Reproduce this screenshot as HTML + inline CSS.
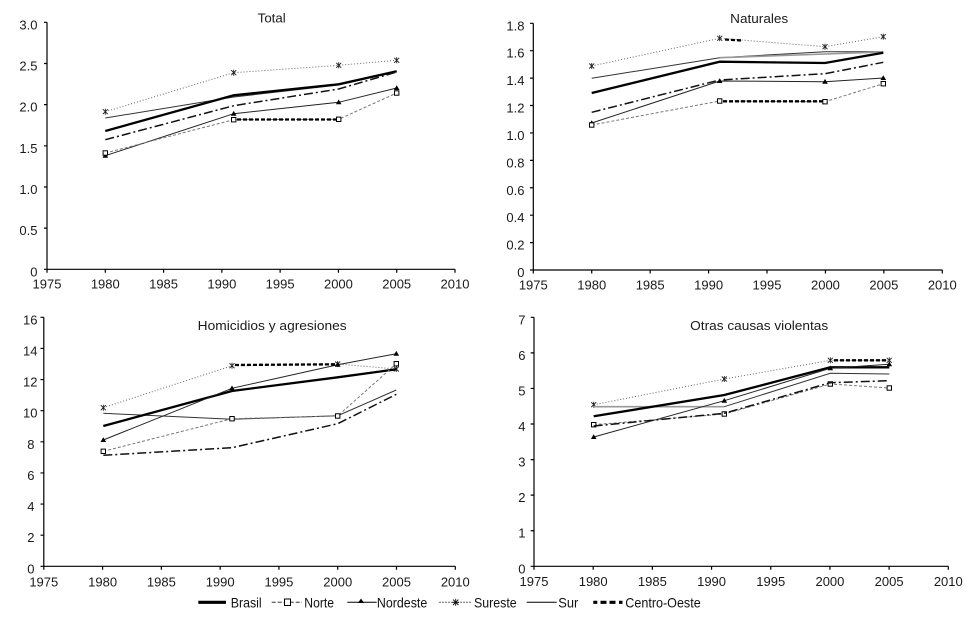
<!DOCTYPE html>
<html><head><meta charset="utf-8"><style>
html,body{margin:0;padding:0;background:#fff;}
svg{display:block;font-family:"Liberation Sans",Arial,sans-serif;}
.tk{font-size:13px;fill:#1a1a1a;}
.ax{stroke:#000;stroke-width:1.2;fill:none;}
.br{stroke:#000;stroke-width:2.3;fill:none;}
.no{stroke:#777;stroke-width:1;stroke-dasharray:3,2;fill:none;marker-start:url(#sq);marker-mid:url(#sq);marker-end:url(#sq);}
.nd{stroke:#222;stroke-width:1;fill:none;marker-start:url(#tri);marker-mid:url(#tri);marker-end:url(#tri);}
.se{stroke:#666;stroke-width:1;stroke-dasharray:1,2;fill:none;marker-start:url(#st);marker-mid:url(#st);marker-end:url(#st);}
.su{stroke:#333;stroke-width:1;fill:none;}
.dd{stroke:#111;stroke-width:1.5;stroke-dasharray:9,3,2,3;fill:none;}
.hv{stroke:#000;stroke-width:2.3;stroke-dasharray:4,2;fill:none;}
</style></head><body>
<svg width="967" height="626" viewBox="0 0 967 626" xmlns="http://www.w3.org/2000/svg">
<defs>
<marker id="sq" markerWidth="8" markerHeight="8" refX="4" refY="4" markerUnits="userSpaceOnUse"><rect x="1.8" y="1.8" width="4.4" height="4.4" fill="#fff" stroke="#000" stroke-width="1" stroke-dasharray="none"/></marker>
<marker id="tri" markerWidth="8" markerHeight="8" refX="4" refY="4" markerUnits="userSpaceOnUse"><polygon points="4,1.2 6.8,6 1.2,6" fill="#000" stroke="none"/></marker>
<marker id="st" markerWidth="8" markerHeight="8" refX="4" refY="4" markerUnits="userSpaceOnUse"><path d="M1.5,1.5L6.5,6.5M6.5,1.5L1.5,6.5M4,1L4,7" stroke="#222" stroke-width="0.9" stroke-dasharray="none" fill="none"/></marker>
</defs>
<rect width="967" height="626" fill="#fff"/>

<!-- PANEL 1 Total -->
<g>
<text x="271.7" y="22.7" class="tk" text-anchor="middle" textLength="28" lengthAdjust="spacingAndGlyphs">Total</text>
<path class="ax" d="M47,22.3V269.3H455"/>
<path class="ax" d="M44,269.3H47M44,228.13H47M44,186.97H47M44,145.8H47M44,104.63H47M44,63.47H47M44,22.3H47"/>
<path class="ax" d="M47,269.3v3.5M105.29,269.3v3.5M163.57,269.3v3.5M221.86,269.3v3.5M280.14,269.3v3.5M338.43,269.3v3.5M396.71,269.3v3.5M455,269.3v3.5"/>
<g class="tk" text-anchor="end">
<text x="37.5" y="276.3">0</text><text x="37.5" y="235.1">0.5</text><text x="37.5" y="194">1.0</text><text x="37.5" y="152.8">1.5</text><text x="37.5" y="111.6">2.0</text><text x="37.5" y="70.5">2.5</text><text x="37.5" y="29.3">3.0</text>
</g>
<g class="tk" text-anchor="middle">
<text x="47" y="288.6">1975</text><text x="105.29" y="288.6">1980</text><text x="163.57" y="288.6">1985</text><text x="221.86" y="288.6">1990</text><text x="280.14" y="288.6">1995</text><text x="338.43" y="288.6">2000</text><text x="396.71" y="288.6">2005</text><text x="455" y="288.6">2010</text>
</g>
<polyline class="se" points="105.3,111.7 233.7,72.7 338.7,65.3 396.7,60.3"/>
<polyline class="su" points="105.3,118 233.7,97 338.7,85 396.7,71.7"/>
<polyline class="br" points="105.3,131 233.7,95.3 338.7,84.3 396.7,71.3"/>
<polyline class="dd" points="105.3,139.7 233.7,105.7 338.7,89 396.7,72"/>
<polyline class="nd" points="105.3,155.7 233.7,113.7 338.7,102.3 396.7,88"/>
<polyline class="no" points="105.3,153 233.7,119.7 338.7,119.3 396.7,93"/>
<line class="hv" x1="237" y1="119.5" x2="336" y2="119.5"/>
</g>

<!-- PANEL 2 Naturales -->
<g>
<text x="759.2" y="23" class="tk" text-anchor="middle" textLength="58" lengthAdjust="spacingAndGlyphs">Naturales</text>
<path class="ax" d="M533.3,23.3V270H942.3"/>
<path class="ax" d="M530,270H533.3M530,242.59H533.3M530,215.18H533.3M530,187.77H533.3M530,160.36H533.3M530,132.94H533.3M530,105.53H533.3M530,78.12H533.3M530,50.71H533.3M530,23.3H533.3"/>
<path class="ax" d="M533.3,270v3.5M591.73,270v3.5M650.16,270v3.5M708.59,270v3.5M767.02,270v3.5M825.45,270v3.5M883.88,270v3.5M942.3,270v3.5"/>
<g class="tk" text-anchor="end">
<text x="524.5" y="277">0</text><text x="524.5" y="249.6">0.2</text><text x="524.5" y="222.2">0.4</text><text x="524.5" y="194.8">0.6</text><text x="524.5" y="167.4">0.8</text><text x="524.5" y="139.9">1.0</text><text x="524.5" y="112.5">1.2</text><text x="524.5" y="85.1">1.4</text><text x="524.5" y="57.7">1.6</text><text x="524.5" y="30.3">1.8</text>
</g>
<g class="tk" text-anchor="middle">
<text x="533.3" y="289.3">1975</text><text x="591.73" y="289.3">1980</text><text x="650.16" y="289.3">1985</text><text x="708.59" y="289.3">1990</text><text x="767.02" y="289.3">1995</text><text x="825.45" y="289.3">2000</text><text x="883.88" y="289.3">2005</text><text x="942.3" y="289.3">2010</text>
</g>
<polyline class="se" points="591.7,66 719.7,38.3 825,46.7 883.3,36.7"/>
<polyline class="su" points="591.7,78.3 719.7,57.7 825,51.7 883.3,51.7"/>
<line x1="719.7" y1="57.7" x2="883.3" y2="52" stroke="#999" stroke-width="1.6"/>
<polyline class="br" points="591.7,93 719.7,61.7 825,63 883.3,52.7"/>
<polyline class="dd" points="591.7,112.3 719.7,80 825,73.7 883.3,62.3"/>
<polyline class="nd" points="591.7,123 719.7,81 825,81.7 883.3,78"/>
<polyline class="no" points="591.7,125 719.7,101 825,101.7 883.3,83.7"/>
<line class="hv" x1="723" y1="101.3" x2="823" y2="101.3"/>
<line class="hv" x1="725" y1="39.5" x2="742" y2="40.5"/>
</g>

<!-- PANEL 3 Homicidios -->
<g>
<text x="272.2" y="330" class="tk" text-anchor="middle" textLength="149" lengthAdjust="spacingAndGlyphs">Homicidios y agresiones</text>
<path class="ax" d="M43.8,317.3V566.3H455.3"/>
<path class="ax" d="M40.5,566.3H43.8M40.5,535.18H43.8M40.5,504.05H43.8M40.5,472.93H43.8M40.5,441.8H43.8M40.5,410.68H43.8M40.5,379.55H43.8M40.5,348.43H43.8M40.5,317.3H43.8"/>
<path class="ax" d="M43.8,566.3v3.5M102.59,566.3v3.5M161.37,566.3v3.5M220.16,566.3v3.5M278.94,566.3v3.5M337.73,566.3v3.5M396.51,566.3v3.5M455.3,566.3v3.5"/>
<g class="tk" text-anchor="end">
<text x="34.5" y="573.3">0</text><text x="34.5" y="542.2">2</text><text x="34.5" y="511">4</text><text x="34.5" y="479.9">6</text><text x="34.5" y="448.8">8</text><text x="37.5" y="417.7">10</text><text x="37.5" y="386.5">12</text><text x="37.5" y="355.4">14</text><text x="37.5" y="324.3">16</text>
</g>
<g class="tk" text-anchor="middle">
<text x="43.8" y="586.3">1975</text><text x="102.59" y="586.3">1980</text><text x="161.37" y="586.3">1985</text><text x="220.16" y="586.3">1990</text><text x="278.94" y="586.3">1995</text><text x="337.73" y="586.3">2000</text><text x="396.51" y="586.3">2005</text><text x="455.3" y="586.3">2010</text>
</g>
<polyline class="se" points="103.3,407.7 232,365.7 337.7,364 396.3,369"/>
<polyline class="su" points="103.3,413.3 232,419.3 337.7,415.7 396.3,390"/>
<polyline class="br" points="103.3,426 232,391 337.7,377.3 396.3,369.3"/>
<polyline class="nd" points="103.3,440 232,388.3 337.7,364.7 396.3,353.7"/>
<polyline class="no" points="103.3,451.3 232,418.7 337.7,416 396.3,363.7"/>
<polyline class="dd" points="103.3,455.3 232,447.7 337.7,423.7 396.3,394.3"/>
<line class="hv" x1="235" y1="365" x2="336" y2="364.3"/>
</g>

<!-- PANEL 4 Otras -->
<g>
<text x="759.2" y="330" class="tk" text-anchor="middle" textLength="138" lengthAdjust="spacingAndGlyphs">Otras causas violentas</text>
<path class="ax" d="M534,317.3V566.3H948.3"/>
<path class="ax" d="M530.7,566.3H534M530.7,530.73H534M530.7,495.16H534M530.7,459.59H534M530.7,424.01H534M530.7,388.44H534M530.7,352.87H534M530.7,317.3H534"/>
<path class="ax" d="M534,566.3v3.5M593.19,566.3v3.5M652.37,566.3v3.5M711.56,566.3v3.5M770.74,566.3v3.5M829.93,566.3v3.5M889.11,566.3v3.5M948.3,566.3v3.5"/>
<g class="tk" text-anchor="end">
<text x="525.5" y="573.3">0</text><text x="525.5" y="537.7">1</text><text x="525.5" y="502.2">2</text><text x="525.5" y="466.6">3</text><text x="525.5" y="431">4</text><text x="525.5" y="395.4">5</text><text x="525.5" y="359.9">6</text><text x="525.5" y="324.3">7</text>
</g>
<g class="tk" text-anchor="middle">
<text x="534" y="586">1975</text><text x="593.19" y="586">1980</text><text x="652.37" y="586">1985</text><text x="711.56" y="586">1990</text><text x="770.74" y="586">1995</text><text x="829.93" y="586">2000</text><text x="889.11" y="586">2005</text><text x="948.3" y="586">2010</text>
</g>
<polyline class="se" points="593.7,404.7 724.3,379 830.3,360.3 889.3,360.3"/>
<polyline points="593.7,406.7 724.3,406.7" stroke="#999" stroke-width="1.6" fill="none"/>
<polyline class="su" points="724.3,406.7 830.3,373.3 889.3,374"/>
<polyline points="830.3,368 889.3,367" stroke="#999" stroke-width="1.6" fill="none"/>
<polyline class="br" points="593.7,416.3 724.3,395 830.3,367.3 889.3,367.3"/>
<polyline class="nd" points="593.7,437 724.3,400.7 830.3,368.3 889.3,364.3"/>
<polyline class="no" points="593.7,424.7 724.3,414 830.3,384 889.3,388"/>
<polyline class="dd" points="593.7,426 724.3,413.3 830.3,382.7 889.3,380.7"/>
<line class="hv" x1="834" y1="360.3" x2="886" y2="360.3"/>
</g>

<!-- LEGEND -->
<g>
<line x1="198.3" y1="602.3" x2="226" y2="602.3" stroke="#000" stroke-width="3.2"/>
<text x="230.7" y="607.7" font-size="14" fill="#111" textLength="31" lengthAdjust="spacingAndGlyphs">Brasil</text>
<line x1="271.7" y1="602.3" x2="302" y2="602.3" stroke="#333" stroke-width="1" stroke-dasharray="4,2"/>
<rect x="284.5" y="599" width="6" height="6.5" fill="#fff" stroke="#000" stroke-width="1"/>
<text x="304.3" y="607.7" font-size="14" fill="#111" textLength="29.7" lengthAdjust="spacingAndGlyphs">Norte</text>
<line x1="347.3" y1="602.3" x2="376.7" y2="602.3" stroke="#000" stroke-width="1"/>
<polygon points="361,598.5 364,603 358,603" fill="#000"/>
<text x="376.9" y="607.7" font-size="14" fill="#111" textLength="50.4" lengthAdjust="spacingAndGlyphs">Nordeste</text>
<line x1="439.3" y1="602.3" x2="471" y2="602.3" stroke="#333" stroke-width="1" stroke-dasharray="1.5,1.5"/>
<path d="M453,599.6L458.4,605M458.4,599.6L453,605M455.7,598.8V605.8M452.3,602.3H459.1" stroke="#111" stroke-width="0.9" fill="none"/>
<text x="474" y="607.7" font-size="14" fill="#111" textLength="42.7" lengthAdjust="spacingAndGlyphs">Sureste</text>
<line x1="526.7" y1="602.3" x2="556.7" y2="602.3" stroke="#000" stroke-width="1"/>
<text x="558.3" y="607.7" font-size="14" fill="#111" textLength="20" lengthAdjust="spacingAndGlyphs">Sur</text>
<path d="M593.3,602.3h4M600.5,602.3h6M609.5,602.3h6M619,602.3h3.5" stroke="#000" stroke-width="3.2" fill="none"/>
<text x="625.3" y="607.7" font-size="14" fill="#111" textLength="75.4" lengthAdjust="spacingAndGlyphs">Centro-Oeste</text>
</g>
</svg>
</body></html>
